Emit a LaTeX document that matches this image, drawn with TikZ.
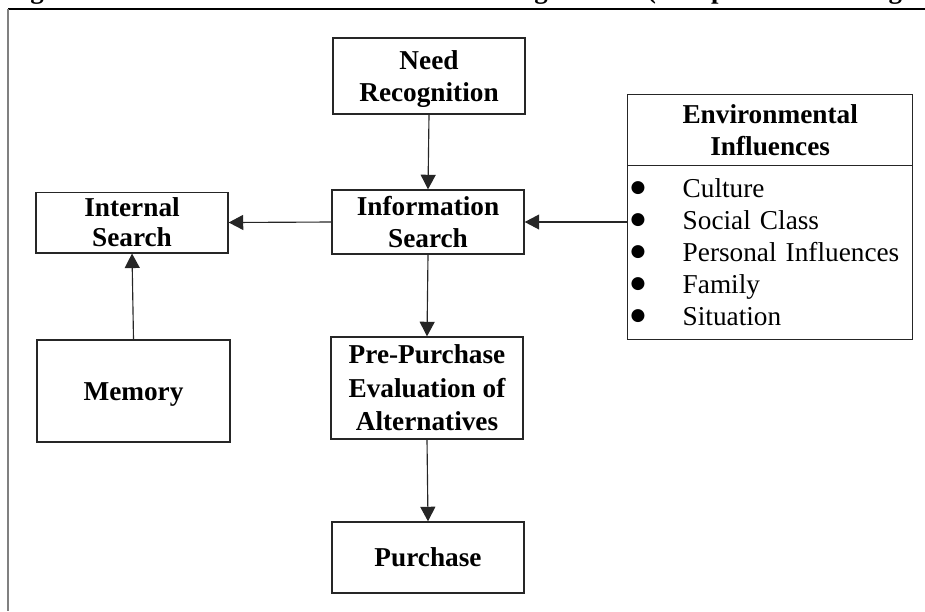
\documentclass[tikz,border=0pt]{standalone}
\usepackage{fontspec}
\setmainfont{Liberation Serif}
\newfontfamily\symfont{DejaVu Sans}
\usetikzlibrary{arrows.meta}
% line strut with the font's full ascent and descent, so lines centre like a word processor's
\newcommand\lnstrut{\rule[-0.216em]{0pt}{1.107em}}
% list bullet: a solid disc set in a tab of fixed width
\newcommand\lstbullet{\makebox[22.9pt][l]{\raisebox{2.4pt}{\fontsize{7.5}{8}\symfont ●}}}
\begin{document}
\begin{tikzpicture}[x=0.44pt,y=-0.44pt,
  box/.style={draw=black!85, line width=0.6pt, inner sep=0pt, align=center,
    font=\fontsize{12}{14.1}\selectfont\bfseries},
  size/.style 2 args={minimum width=#1*0.44pt, minimum height=#2*0.44pt},
  flow/.style={draw=black!85, line width=0.5pt, -{Triangle[length=6.4pt,width=6.6pt]}}]
\useasboundingbox (0,0) rectangle (925,611);
\clip (0,0) rectangle (925,611);

% caption line, running off the top edge
\node[anchor=base west, inner sep=0pt, font=\fontsize{11.8}{14}\selectfont\bfseries]
  (title) at (6.2,-1.5)
  {Figure 1: Model of Consumer Decision Making Process (Complete Purchasing Behaviour)};

% surrounding frame
\draw[black, line width=0.6pt] (8,9) -- (925,9);
\draw[black!50, line width=0.9pt] (8,9) -- (8,611);

% process boxes
\node[box, size={192}{76}] (need) at (429,76) {\lnstrut Need\\\lnstrut Recognition};
\node[box, size={192}{64}] (info) at (428,222) {\lnstrut Information\\\lnstrut Search};
\node[box, size={192}{55}, font=\fontsize{12}{13.4}\selectfont\bfseries] (internal) at (132,222.5)
  {\lnstrut Internal\\\lnstrut Search};
\node[box, size={193}{102}] (memory) at (133.5,391) {\lnstrut Memory};
\node[box, size={192}{102}, font=\fontsize{12}{14.7}\selectfont\bfseries] (pre) at (427,388)
  {\lnstrut Pre-Purchase\\\lnstrut Evaluation of\\\lnstrut Alternatives};
\node[box, size={192}{71}] (purchase) at (428,557.5) {\lnstrut Purchase};

% environmental influences panel
\node[box, size={285}{71}, anchor=north west, font=\fontsize{12}{12.5}\selectfont\bfseries]
  (envhead) at (627,94) {\lnstrut Environmental\\\lnstrut Influences};
\node[draw=black!85, line width=0.6pt, anchor=north west, minimum height=174*0.44pt,
  text width=279*0.44pt, inner xsep=3*0.44pt, inner ysep=0pt, align=left,
  font=\fontsize{12}{14.1}\selectfont] (envlist) at (627,165)
  {\lnstrut\lstbullet Culture\\
   \lnstrut\lstbullet Social Class\\
   \lnstrut\lstbullet Personal Influences\\
   \lnstrut\lstbullet Family\\
   \lnstrut\lstbullet Situation};

% connectors
\draw[flow] (need.south) -- (info.north);
\draw[flow] (info.west) -- (internal.east);
\draw[flow] (envlist.west |- info.east) -- (info.east);
\draw[flow] (memory.north) -- (internal.south);
\draw[flow] (info.south) -- (pre.north);
\draw[flow] (pre.south) -- (purchase.north);
\end{tikzpicture}
\end{document}
